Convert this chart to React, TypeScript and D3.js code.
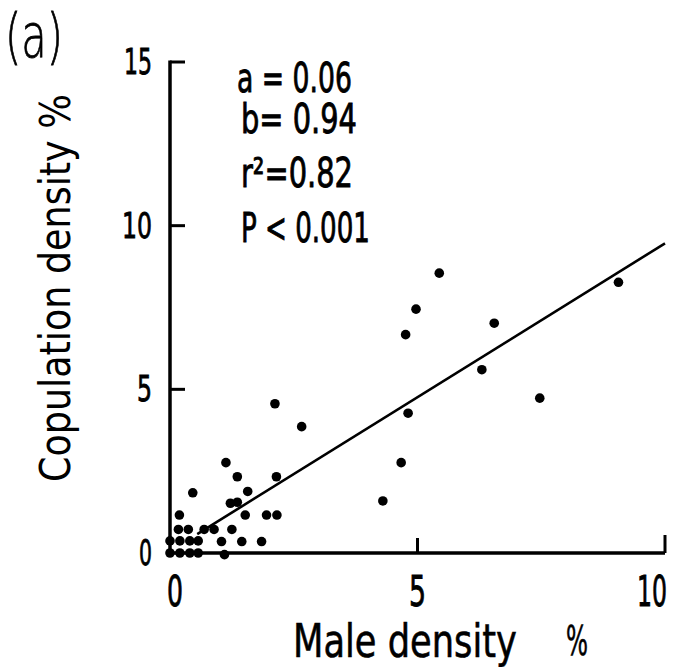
import React from "react";
import * as d3 from "d3";

const maleDensity = [5.44, 4.97, 4.76, 6.55, 9.06, 6.3, 7.47, 4.81, 4.67, 4.3, 2.12, 2.66, 1.13, 1.36, 2.15, 0.46, 1.57, 1.22, 1.36, 0.19, 1.52, 1.95, 2.16, 0.17, 0.37, 0.69, 0.89, 1.25, 0.0, 0.2, 0.4, 0.57, 1.04, 1.45, 1.85, 0.0, 0.2, 0.4, 0.57, 1.1];
const copulationDensity = [8.55, 7.45, 6.67, 7.02, 8.27, 5.6, 4.73, 4.27, 2.76, 1.59, 4.56, 3.86, 2.76, 2.33, 2.33, 1.84, 1.88, 1.52, 1.55, 1.16, 1.16, 1.16, 1.16, 0.72, 0.72, 0.72, 0.72, 0.72, 0.37, 0.37, 0.37, 0.37, 0.35, 0.35, 0.35, 0.0, 0.0, 0.0, 0.0, -0.05];
const xTicks = [0, 5, 10];
const yTicks = [0, 5, 10, 15];
const regression = { a: 0.06, b: 0.94, from: 0.55, to: 10 };
const statsLabels = ["a = 0.06", "b= 0.94", "r\u00B2=0.82", "P < 0.001"];
const panelLabel = "(a)";
const xTitle = "Male density";
const xTitleUnit = "%";
const yTitle = "Copulation density %";

const FAMILY = "DejaVu Sans";
const FONT = `'${FAMILY}', sans-serif`;

let ctx: CanvasRenderingContext2D | null = null;
function measure(text: string, size: number, weight: number | string = 400): number {
  if (!ctx) ctx = document.createElement("canvas").getContext("2d");
  if (!ctx) return text.length * size * 0.6;
  ctx.font = `${weight} ${size}px '${FAMILY}', sans-serif`;
  return ctx.measureText(text).width;
}

type FitProps = {
  text: string;
  x: number;
  y: number;
  width: number;
  size: number;
  anchor?: "start" | "middle" | "end";
  rotate?: number;
  weight?: number;
  stroke?: number;
};

function FitText({ text, x, y, width, size, anchor = "start", rotate = 0, weight = 400, stroke = 0 }: FitProps) {
  const natural = measure(text, size, weight);
  const sx = width / natural;
  const off = anchor === "start" ? 0 : anchor === "middle" ? -natural / 2 : -natural;
  return (
    <g transform={`translate(${x},${y}) rotate(${rotate}) scale(${sx},1)`}>
      <text x={off} y={0} fontSize={size} fontWeight={weight} fill="#000" stroke={stroke ? "#000" : "none"} strokeWidth={stroke}>
        {text}
      </text>
    </g>
  );
}

export default function App() {
  const x = d3.scaleLinear().domain([0, 10]).range([170, 665]);
  const y = d3.scaleLinear().domain([0, 15]).range([553, 62]);
  const line = d3.line<number>().x((d) => x(d)).y((d) => y(regression.a + regression.b * d));
  const pts = maleDensity.map((v, i) => [v, copulationDensity[i]]);

  const statBaselines = [92, 133, 187, 242];
  const statWidths = [115, 116, 112, 129];
  const statX = [237, 241, 241, 241];

  const yTickW: Record<number, number> = { 0: 13, 5: 15, 10: 30, 15: 28 };
  const xTickW: Record<number, number> = { 0: 16, 5: 17, 10: 30 };

  return (
    <svg width={682} height={667} style={{ position: "absolute", left: 0, top: 0, background: "#fff" }} fontFamily={FONT}>
      <rect x={0} y={0} width={682} height={667} fill="#fff" />
      {/* axes */}
      <line x1={x(0)} x2={x(10)} y1={y(0)} y2={y(0)} stroke="#000" strokeWidth={3.5} />
      <line x1={x(0)} x2={x(0)} y1={y(0)} y2={y(15) - 1.5} stroke="#000" strokeWidth={3.5} />
      {yTicks.filter((t) => t > 0).map((t) => (
        <line key={"yt" + t} x1={x(0)} x2={x(0) + 15} y1={y(t)} y2={y(t)} stroke="#000" strokeWidth={3} />
      ))}
      {xTicks.filter((t) => t > 0).map((t) => (
        <line key={"xt" + t} x1={x(t)} x2={x(t)} y1={y(0)} y2={y(0) - (t === 10 ? 18 : 15)} stroke="#000" strokeWidth={3} />
      ))}
      {/* tick labels */}
      {yTicks.map((t) => (
        <FitText key={"yl" + t} text={String(t)} x={152} y={y(t) + 12} width={yTickW[t]} size={36} anchor="end" stroke={0.9} />
      ))}
      {xTicks.map((t) => (
        <FitText key={"xl" + t} text={String(t)} x={x(t) + (t === 10 ? -13 : t === 0 ? 5 : 0)} y={606} width={xTickW[t]} size={42} anchor="middle" stroke={0.9} />
      ))}
      {/* regression */}
      <path d={line([regression.from, regression.to]) || ""} stroke="#000" strokeWidth={2.6} fill="none" />
      {/* points */}
      {pts.map((p, i) => (
        <circle key={i} cx={x(p[0])} cy={y(p[1])} r={4.8} fill="#000" />
      ))}
      {/* stats */}
      {statsLabels.map((s, i) => (
        <FitText key={s} text={s} x={statX[i]} y={statBaselines[i]} width={statWidths[i]} size={40} stroke={0.9} />
      ))}
      {/* panel label */}
      <FitText text={panelLabel} x={5} y={57} width={58} size={60} weight={200} stroke={0.8} />
      {/* axis titles */}
      <FitText text={xTitle} x={293} y={657} width={224} size={46} stroke={0.6} />
      <FitText text={xTitleUnit} x={566} y={655} width={22} size={40} stroke={0.6} />
      <FitText text={yTitle} x={70} y={482} width={388} size={43} rotate={-90} />
    </svg>
  );
}
